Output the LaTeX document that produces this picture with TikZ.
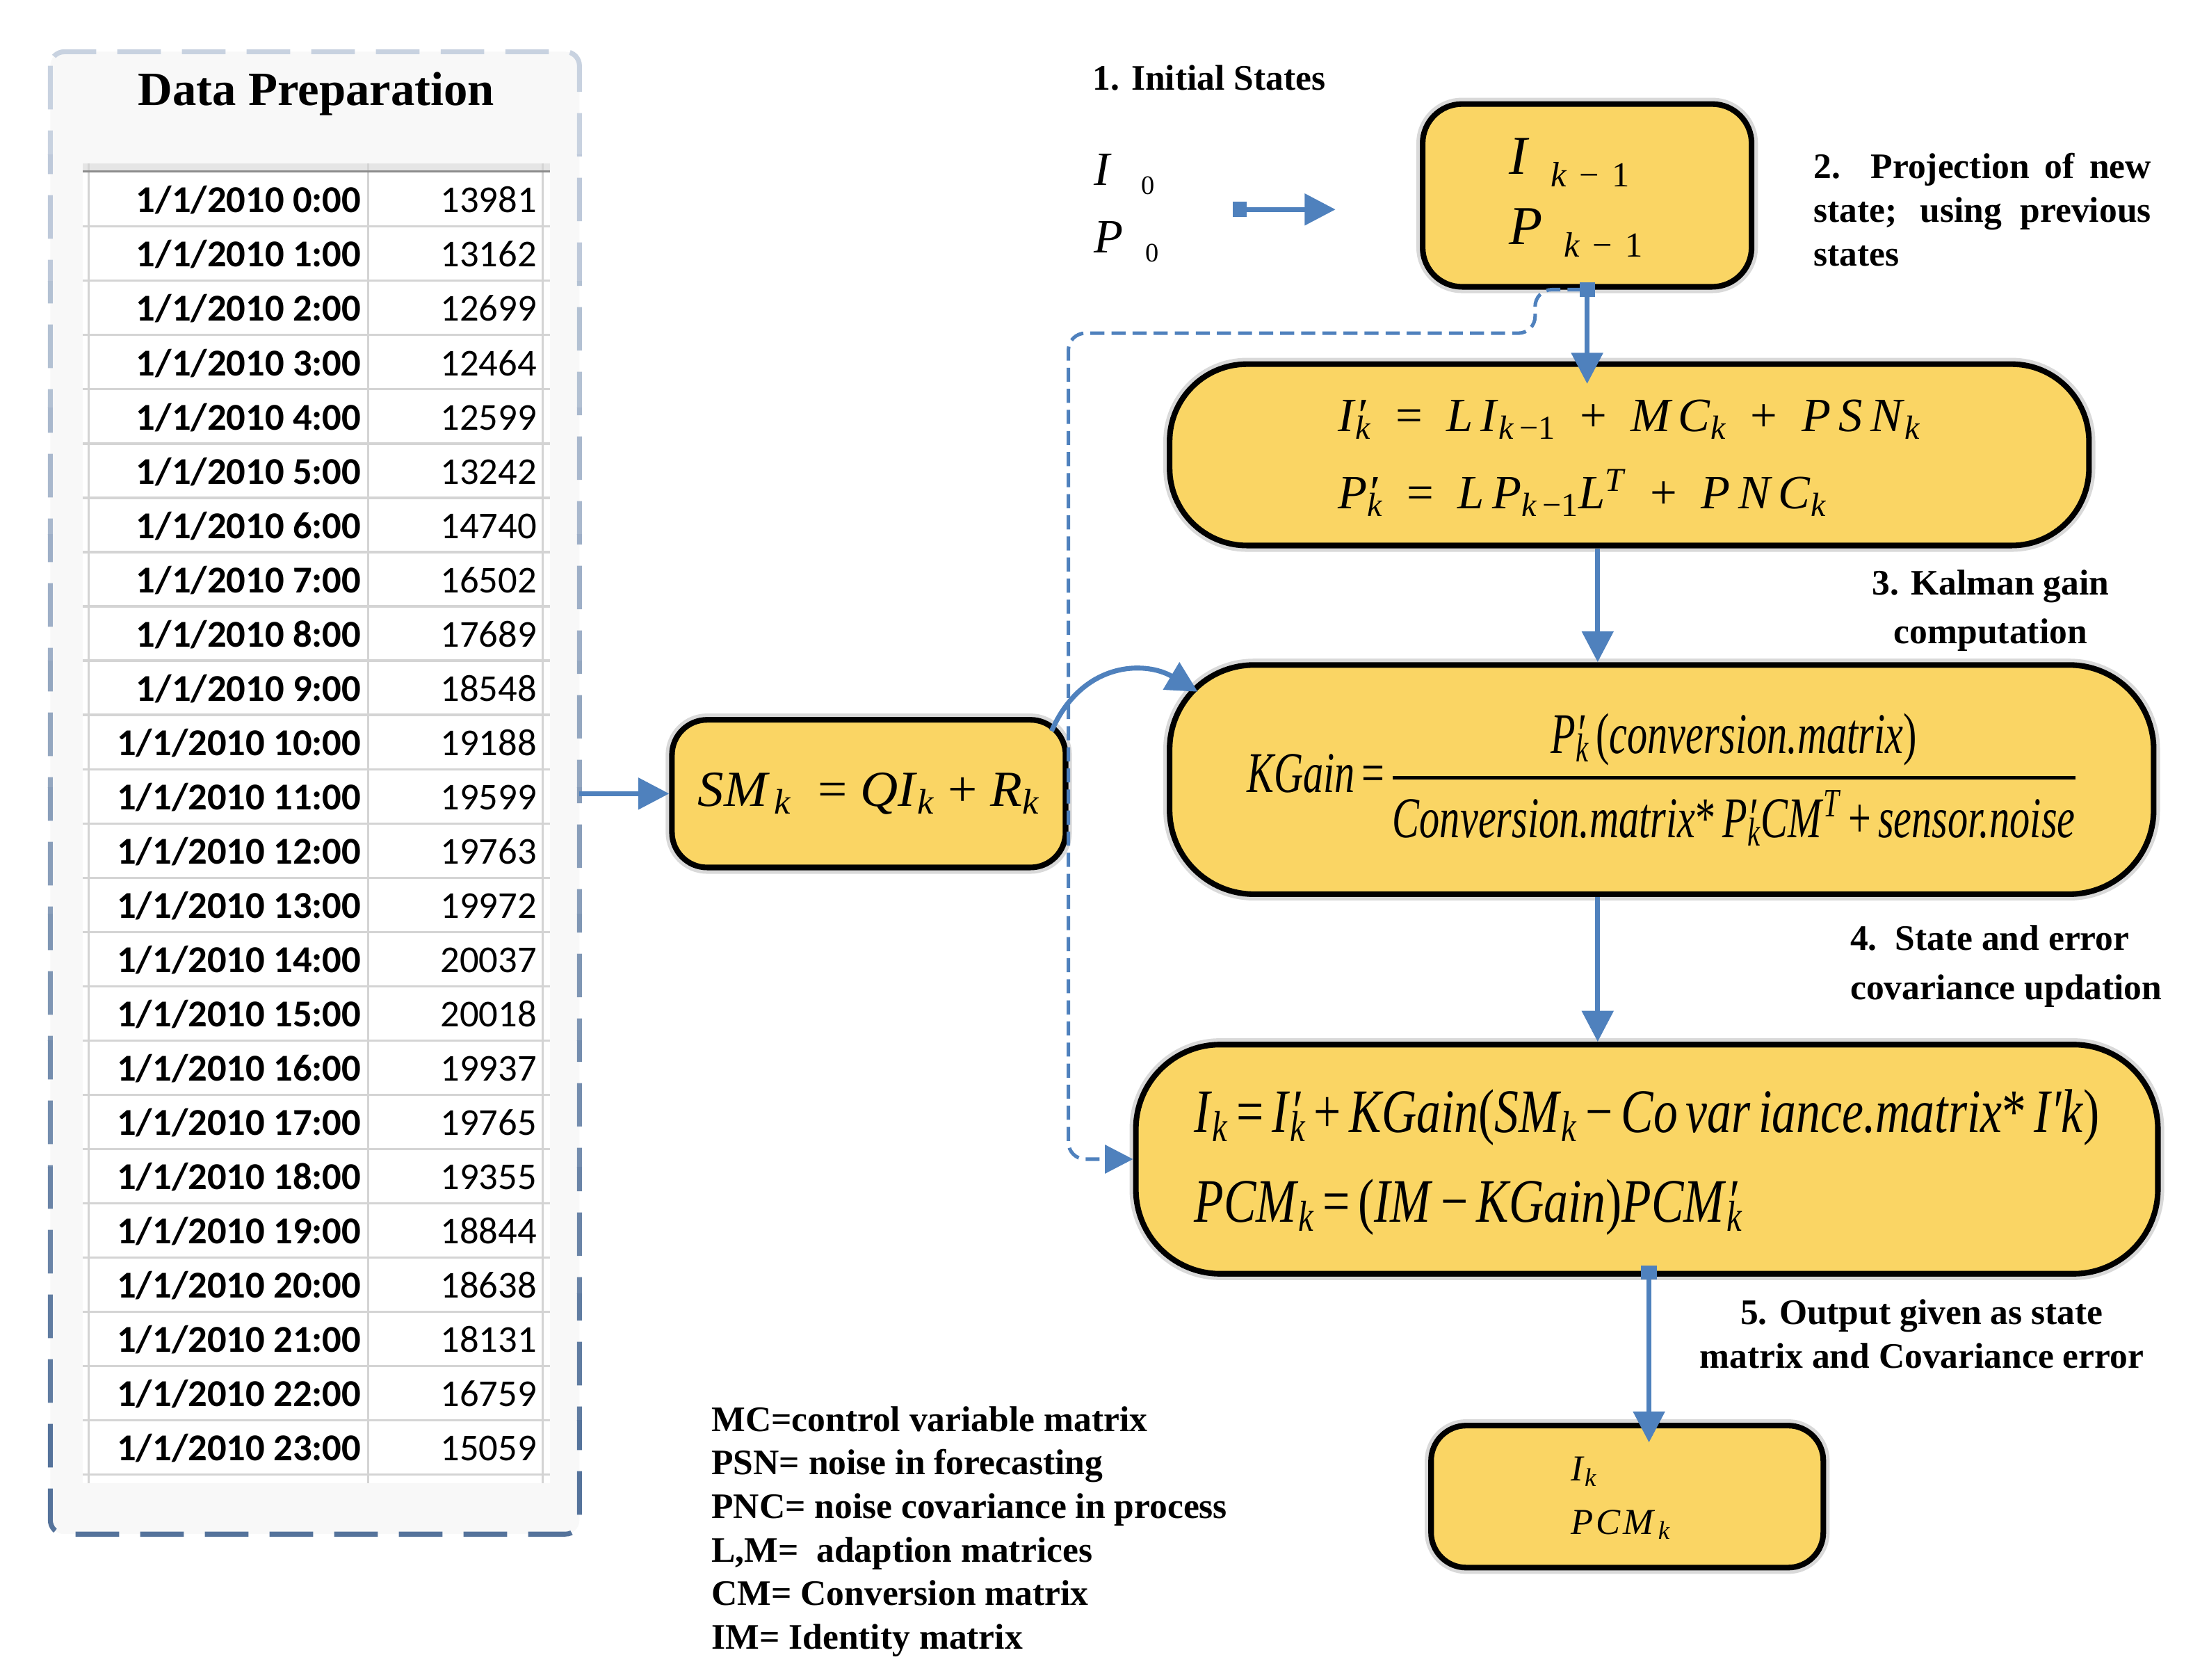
\RequirePackage{fix-cm}
\documentclass[tikz,border=0pt]{standalone}
\usepackage{fontspec}
\setmainfont{Liberation Serif}
\newfontfamily\calib{Carlito}
\usepackage{amsmath}
\usepackage{graphicx}
\usetikzlibrary{arrows.meta,calc}
\definecolor{gold}{RGB}{250,213,100}
\definecolor{kblue}{RGB}{79,129,189}
\definecolor{dtop}{RGB}{200,210,224}
\definecolor{dbot}{RGB}{84,114,154}
\definecolor{gridc}{RGB}{212,212,212}
\definecolor{panelfill}{RGB}{248,248,248}
\newcommand\primek[1]{\textit{#1}\makebox[0pt][l]{\textit{′}}\textsubscript{\textit{k}}}
\newcommand\subk[1]{\textit{#1}\textsubscript{\textit{k}}}
\begin{document}
\begin{tikzpicture}[x=1pt,y=-1pt,
  goldbox/.style={draw=black, line width=4pt, fill=gold, inner sep=0pt,
    preaction={draw=black!15, line width=9pt}},
  arr/.style={kblue, line width=3.5pt, -{Triangle[length=22pt,width=22pt]}},
  sqtail/.style={{Square[length=10pt,width=11pt]}-{Triangle[length=22pt,width=22pt]}},
  dasharr/.style={kblue, line width=2.5pt, dash pattern=on 10pt off 5pt, rounded corners=12pt,
    -{Triangle[length=20pt,width=20pt]}},
  lab/.style={font={\fontsize{25.5}{31}\selectfont\bfseries}, inner sep=0pt},
  datecell/.style={anchor=base east, inner sep=0pt, font={\calib\bfseries\fontsize{27}{27}\selectfont}},
  valcell/.style={anchor=base east, inner sep=0pt, font={\calib\fontsize{27}{27}\selectfont}},
  gridline/.style={draw=gridc, line width=1.6pt}]
\useasboundingbox (0,0) rectangle (1560,1194.5);
\fill[white] (0,0) rectangle (1560,1194.5);

% ---------- Data preparation panel ----------
\node[inner sep=0pt, minimum width=376pt, minimum height=1054pt] (panel) at (224,564) {};
\fill[panelfill, rounded corners=10pt] (panel.north west) rectangle (panel.south east);
\foreach \n in {0,...,11} {
  \pgfmathsetmacro\ya{20+\n*90}
  \pgfmathsetmacro\yb{110+\n*90}
  \pgfmathtruncatemacro\pc{100-\n*9}
  \begin{scope}
    \clip (20,\ya) rectangle (430,\yb);
    \draw[draw=dtop!\pc!dbot, line width=3.5pt, dash pattern=on 31pt off 15pt, rounded corners=10pt]
      (panel.north west) rectangle (panel.south east);
  \end{scope}
}
\node[anchor=base, inner sep=0pt, font={\fontsize{34}{34}\selectfont\bfseries}] (title) at (225,75) {Data Preparation};

% table
\fill[white] (59,117) rectangle (391,1055);
\fill[black!10] (59,116) rectangle (391,122);
\foreach \k in {1,...,24} \draw[gridline] (59,{122.5+38.6*\k}) -- (391,{122.5+38.6*\k});
\foreach \xx in {63,262,386} \draw[gridline, line width=1.4pt] (\xx,116) -- (\xx,1055);
\draw[black!45, line width=1.8pt] (59,122) -- (391,122);
\foreach \val [count=\n from 0] in {13981,13162,12699,12464,12599,13242,14740,16502,17689,18548,19188,19599,19763,19972,20037,20018,19937,19765,19355,18844,18638,18131,16759,15059} {
  \pgfmathsetmacro\yy{151.3+38.6*\n}
  \node[datecell] (d\n) at (257,\yy) {1/1/2010 \n:00};
  \node[valcell] (v\n) at (382,\yy) {\val};
}

% ---------- initial states ----------
\node[lab, anchor=base west] (lab1) at (777,64) {1. Initial States};
\node[anchor=base west, inner sep=0pt, font={\fontsize{34}{48}\selectfont}] (init) at (778,132)
  {\begin{tabular}[t]{@{}l@{}}\textit{I}\hspace{21pt}\raisebox{-6pt}{\fontsize{19}{19}\selectfont 0}\\
   \textit{P}\hspace{16pt}\raisebox{-6pt}{\fontsize{19}{19}\selectfont 0}\end{tabular}};
\coordinate (i1) at (877,149);
\coordinate (i2) at (950,149);

% ---------- boxes ----------
\node[goldbox, rounded corners=28pt, minimum width=234pt, minimum height=130pt,
  font={\fontsize{39}{50}\selectfont}] (A) at (1129,139)
  {\hspace*{-16pt}\begin{tabular}{@{}l@{}}\textit{I}\hspace{15pt}\raisebox{-9pt}{\fontsize{25}{25}\selectfont\textit{k}\hspace{9pt}−\hspace{9pt}1}\\
   \textit{P}\hspace{15pt}\raisebox{-9pt}{\fontsize{25}{25}\selectfont\textit{k}\hspace{9pt}−\hspace{9pt}1}\end{tabular}};

\node[goldbox, rounded corners=55pt, minimum width=654pt, minimum height=129pt,
  font={\fontsize{34}{55}\selectfont}] (B) at (1159,323.5)
  {\begin{tabular}{@{}l@{}}
   \primek{I}\ \ =\ \ \textit{L\,I}\textsubscript{\textit{k}\,−1}\ \ +\ \ \textit{M\,C}\textsubscript{\textit{k}}\ \ +\ \ \textit{P\,S\,N}\textsubscript{\textit{k}}\\
   \primek{P}\ \ =\ \ \textit{L\,P}\textsubscript{\textit{k}\,−1}\textit{L}\textsuperscript{\textit{T}}\ \ +\ \ \textit{P\,N\,C}\textsubscript{\textit{k}}
   \end{tabular}};

\node[goldbox, rounded corners=60pt, minimum width=700pt, minimum height=163pt,
  font={\fontsize{41}{41}\selectfont}] (C) at (1182,554.5)
  {\resizebox{590pt}{\height}{\textit{KGain}\,=\,$\displaystyle\genfrac{}{}{2.5pt}{}{\mbox{\primek{P}\,(\textit{conversion.matrix})}}{\mbox{\textit{Conversion.matrix}*\,\primek{P}\textit{CM}\textsuperscript{\textit{T}}\,+\,\textit{sensor.noise}}}$}};

\node[goldbox, rounded corners=60pt, minimum width=727pt, minimum height=163pt,
  font={\fontsize{44}{64}\selectfont}] (D) at (1171.5,824.5)
  {\resizebox{644pt}{\height}{\begin{tabular}{@{}l@{}}
   \subk{I}\,=\,\primek{I}\,+\,\textit{KGain}(\subk{SM}\,−\,\textit{Co\,var\,iance.matrix}*\,\textit{I′k})\\
   \subk{PCM}\,=\,(\textit{IM}\,−\,\textit{KGain})\primek{PCM}
   \end{tabular}}};

\node[goldbox, rounded corners=25pt, minimum width=280pt, minimum height=105pt,
  font={\fontsize{36}{36}\selectfont}] (E) at (618,564.5)
  {\resizebox{243pt}{\height}{\textit{SM}\hspace{3pt}\textsubscript{\textit{k}}\ \ =\ \textit{QI}\textsubscript{\textit{k}}\ +\ \subk{R}}};

\node[goldbox, rounded corners=25pt, minimum width=279pt, minimum height=101pt,
  font={\fontsize{26}{38}\selectfont}] (F) at (1157.5,1064.5)
  {\hspace*{-9pt}\begin{tabular}{@{}l@{}}\subk{I}\\ \textit{P\hspace{2pt}C\hspace{2pt}M}\hspace{2pt}\textsubscript{\textit{k}}\end{tabular}};

% ---------- labels ----------
\node[lab, anchor=base west] (lab2) at (1290,127)
  {\begin{tabular}[t]{@{}l@{}}\makebox[240pt][s]{2. Projection of new}\\ \makebox[240pt][s]{state; using previous}\\ states\end{tabular}};
\node[lab, anchor=base, font={\fontsize{25.5}{35}\selectfont\bfseries}] (lab3) at (1416,423)
  {\begin{tabular}[t]{@{}c@{}}3. Kalman gain\\ computation\end{tabular}};
\node[lab, anchor=base west, font={\fontsize{25.5}{35}\selectfont\bfseries}] (lab4) at (1316,676)
  {\begin{tabular}[t]{@{}l@{}}4.\ \ State and error\\ covariance updation\end{tabular}};
\node[lab, anchor=base] (lab5) at (1367,942)
  {\begin{tabular}[t]{@{}c@{}}5. Output given as state\\ matrix and Covariance error\end{tabular}};
\node[lab, anchor=base west] (legend) at (506,1018)
  {\begin{tabular}[t]{@{}l@{}}MC=control variable matrix\\ PSN= noise in forecasting\\ PNC= noise covariance in process\\
   L,M=\ \ adaption matrices\\ CM= Conversion matrix\\ IM= Identity matrix\end{tabular}};

% ---------- connectors ----------
\coordinate (xc) at (1136.5,0);
\coordinate (xf) at (1173,0);
\coordinate (dstart) at ($(A.south)+(-4,0)$);
\draw[arr, sqtail] (i1) -- (i2);
\draw[dasharr] (dstart) -- (1092,206) -- (1092,237) -- (760,237) |- (D.west);
\draw[arr, sqtail] ($(A.south)+(0,-5)$) -- ($(A.south |- B.north)+(0,16)$);
\draw[arr] (B.south -| xc) -- (C.north -| xc);
\draw[arr] (C.south -| xc) -- (D.north -| xc);
\draw[arr, sqtail] ($(D.south -| xf)+(0,-8)$) -- ($(F.north -| xf)+(0,14)$);
\draw[arr] (panel.east |- E.west) -- (E.west);
\draw[arr] ($(E.north east)+(-12,10)$) .. controls (770,470) and (815,470) .. ($(C.north west)+(22,21)$);
\end{tikzpicture}
\end{document}
